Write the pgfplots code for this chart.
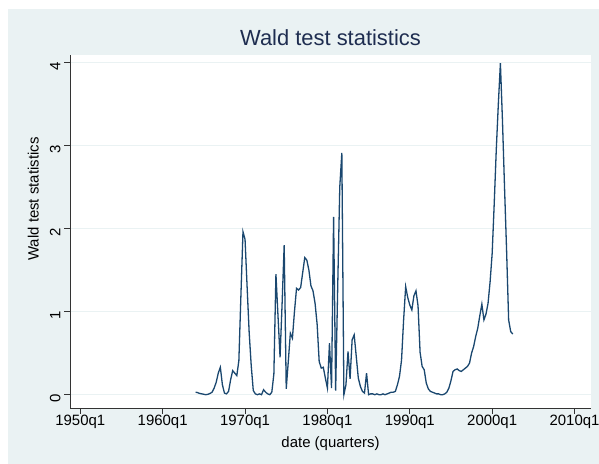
\documentclass[border=0pt]{standalone}
\usepackage{pgfplots}
\pgfplotsset{compat=1.18}
\usepackage{fontspec}
\setmainfont{Liberation Sans}
\definecolor{bgc}{RGB}{234,242,243}
\definecolor{gridc}{RGB}{234,242,243}
\definecolor{linec}{RGB}{26,71,111}
\definecolor{titlec}{RGB}{30,45,80}
\begin{document}
\begin{tikzpicture}[x=1bp,y=1bp]
\useasboundingbox (0,0) rectangle (599,464);
\fill[white] (0,0) rectangle (599,464);
\fill[bgc] (7.5,0) rectangle (599,455);
\begin{axis}[
  at={(70bp,56bp)}, anchor=south west, scale only axis,
  width=521bp, height=353bp,
  xmin=-45, xmax=208, ymin=-0.160, ymax=4.088,
  axis background/.style={fill=white},
  axis lines=left, axis line style={-, black!80, line width=0.8bp},
  xtick={-40,0,40,80,120,160,200},
  xticklabels={1950q1,1960q1,1970q1,1980q1,1990q1,2000q1,2010q1},
  ytick={0,1,2,3,4},
  tick align=outside, major tick length=6bp,
  tick style={black!80, line width=0.8bp},
  tick label style={font=\fontsize{15}{18}\selectfont},
  /pgf/number format/assume math mode=true,
  yticklabel style={rotate=90, anchor=south, xshift=-4bp},
  xticklabel style={yshift=2bp},
  ymajorgrids, major grid style={gridc, line width=1bp},
  clip=false,
]
\addplot[linec, line width=1.3bp] table {
x y
16 0.03
17 0.025
18 0.015
19 0.01
20 0.005
21 0.0
22 0.005
23 0.015
24 0.03
25 0.08
26 0.15
27 0.26
28 0.33
29 0.12
30 0.02
31 0.01
32 0.04
33 0.18
34 0.29
35 0.26
36 0.23
37 0.41
38 1.2
39 1.96
40 1.87
41 1.3
42 0.75
43 0.35
44 0.05
45 0.01
46 0.0
47 0.01
48 0.0
49 0.06
50 0.03
51 0.01
52 0.0
53 0.03
54 0.25
55 1.45
56 0.95
57 0.45
58 1.1
59 1.8
60 0.07
61 0.4
62 0.74
63 0.68
64 1.0
65 1.28
66 1.26
67 1.29
68 1.47
69 1.65
70 1.62
71 1.5
72 1.31
73 1.25
74 1.1
75 0.85
76 0.40
77 0.32
78 0.33
79 0.2
80 0.08
81 0.62
82 0.08
83 2.14
84 0.05
85 1.3
86 2.5
87 2.91
88 0.0
89 0.12
90 0.52
91 0.19
92 0.66
93 0.72
94 0.46
95 0.2
96 0.1
97 0.04
98 0.02
99 0.26
100 0.0
101 0.01
102 0.01
103 0.0
104 0.01
105 0.0
106 0.0
107 0.01
108 0.0
109 0.01
110 0.02
111 0.03
112 0.03
113 0.04
114 0.12
115 0.22
116 0.42
117 0.9
118 1.30
119 1.17
120 1.08
121 1.02
122 1.19
123 1.25
124 1.07
125 0.51
126 0.34
127 0.30
128 0.14
129 0.07
130 0.04
131 0.03
132 0.02
133 0.01
134 0.01
135 0.0
136 0.0
137 0.01
138 0.03
139 0.08
140 0.17
141 0.28
142 0.30
143 0.31
144 0.29
145 0.28
146 0.30
147 0.32
148 0.34
149 0.38
150 0.5
151 0.58
152 0.70
153 0.80
154 0.95
155 1.09
156 0.9
157 0.97
158 1.1
159 1.36
160 1.7
161 2.3
162 2.95
163 3.5
164 3.99
165 3.3
166 2.5
167 1.74
168 0.9
169 0.76
170 0.73
};
\end{axis}
\node[font=\fontsize{22}{26}\selectfont, text=titlec, anchor=base] at (330.5,418) {Wald test statistics};
\node[font=\fontsize{15}{18}\selectfont, anchor=base] at (330.5,16) {date (quarters)};
\node[font=\fontsize{15}{18}\selectfont, rotate=90, anchor=base] at (38.5,265) {Wald test statistics};
\end{tikzpicture}
\end{document}
